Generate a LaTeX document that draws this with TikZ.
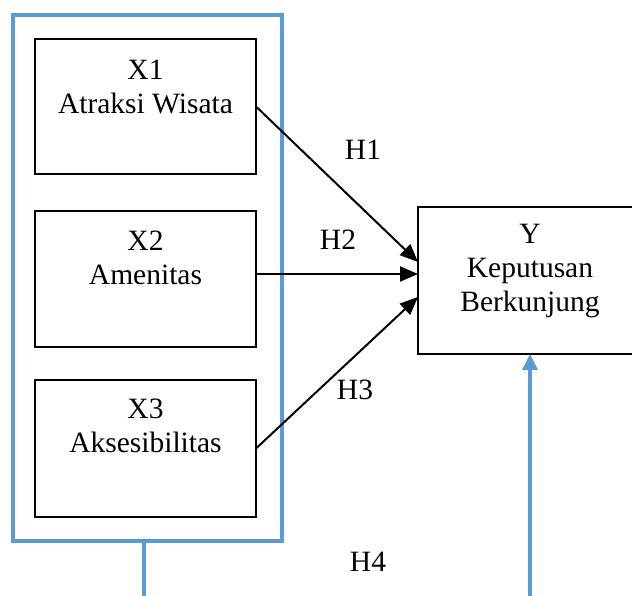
\documentclass[tikz,border=0pt]{standalone}
\usepackage{fontspec}
\setmainfont{Liberation Serif}
\usetikzlibrary{arrows.meta}
\definecolor{bluel}{HTML}{5B9BD5}
\tikzset{
  box/.style={draw=black, line width=2.3pt, rectangle, inner sep=0pt, outer sep=0pt},
  outerbox/.style={draw=bluel, line width=3.6pt, rectangle, inner sep=0pt, outer sep=0pt},
  lbl/.style={align=center, inner sep=0pt, font=\fontsize{29.5}{34}\selectfont},
  arr/.style={draw=black, line width=2pt, -{Triangle[length=18pt,width=15pt]}},
  barr/.style={draw=bluel, line width=3.6pt, -{Triangle[length=16pt,width=15pt]}}
}
\begin{document}
\begin{tikzpicture}[x=1pt,y=1pt]
\useasboundingbox (0,0) rectangle (632,595);
\clip (0,0) rectangle (632,595);
\node[outerbox, minimum width=269pt, minimum height=526pt] (outer) at (147.5,317) {};
\node[box, minimum width=221pt, minimum height=135pt] (x1) at (145.5,488.5) {};
\node[box, minimum width=221pt, minimum height=136pt] (x2) at (145.5,316) {};
\node[box, minimum width=221pt, minimum height=137pt] (x3) at (145.5,146.5) {};
\node[box, minimum width=224pt, minimum height=147pt] (ybox) at (530,314.5) {};
\node[lbl] (x1t) at (145.5,508) {X1\\Atraksi Wisata};
\node[lbl] (x2t) at (145.5,337.5) {X2\\Amenitas};
\node[lbl] (x3t) at (145.5,169.5) {X3\\Aksesibilitas};
\node[lbl] (yt) at (530,324) {Y\\Keputusan\\Berkunjung};
\node[lbl] (h1) at (363,445) {H1};
\node[lbl] (h2) at (338,355) {H2};
\node[lbl] (h3) at (355,205) {H3};
\node[lbl] (h4) at (368,33) {H4};
\draw[arr] (x1.east) -- ([yshift=18.5pt]ybox.west);
\draw[arr] ([yshift=5pt]x2.east) -- ([yshift=6.5pt]ybox.west);
\draw[arr] (x3.east) -- ([yshift=-16.5pt]ybox.west);
\coordinate (bl) at (144,-2.5);
\draw[barr] ([xshift=-3.5pt]outer.south) -- (bl) -| (ybox.south);
\end{tikzpicture}
\end{document}
